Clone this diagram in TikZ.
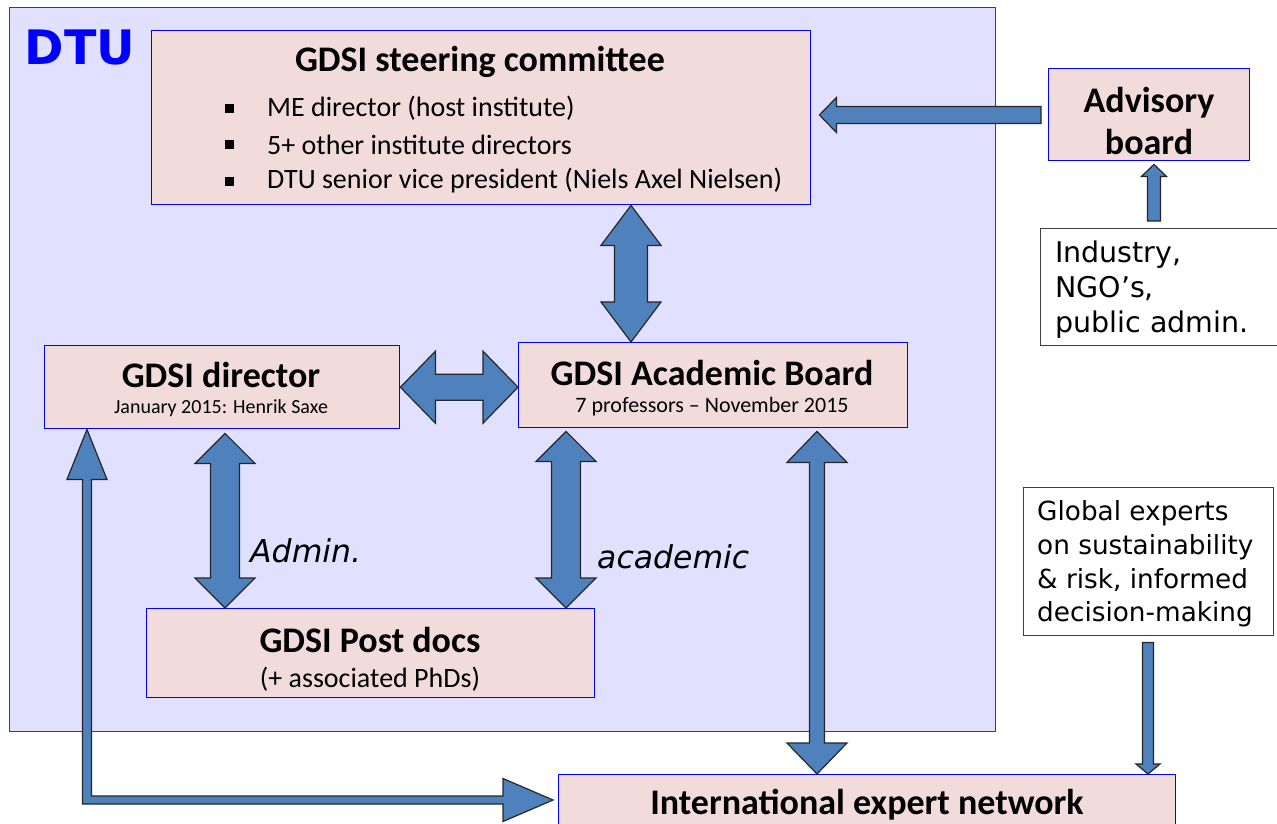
\documentclass[tikz,border=0pt]{standalone}
\usepackage{fontspec}
\setmainfont{Carlito}
\newfontfamily\verd{DejaVu Sans}
\usetikzlibrary{calc}
\definecolor{boxfill}{HTML}{F2DCDB}
\definecolor{dtufill}{HTML}{E1E1FF}
\definecolor{arrfill}{HTML}{4F81BD}
\tikzset{
  orgbox/.style={draw=blue, line width=1.4pt, fill=boxfill, inner sep=0pt, anchor=north west},
  txtbox/.style={draw=black!75, line width=1.4pt, fill=white, inner sep=0pt, anchor=north west},
  blockarr/.style={fill=arrfill, draw=black!85, line width=1.2pt, line join=miter},
  ttl/.style={font=\fontsize{36}{42}\selectfont\bfseries, inner sep=0pt},
  subt/.style={font=\fontsize{#1}{#1}\selectfont, inner sep=0pt},
  bultxt/.style={font=\fontsize{28}{34}\selectfont, inner sep=0pt, anchor=west},
  bulsq/.style={fill=black, minimum size=9pt, inner sep=0pt},
  vtext/.style={inner sep=0pt, anchor=west, align=left},
}
% vertical double block arrow: top tip, bottom tip, shaft half, head half, head length
\newcommand\vdbl[5]{%
  \path[blockarr] let \p1=(#1), \p2=(#2) in
  (\x1,\y1) -- (\x1+#4pt,\y1-#5pt) -- (\x1+#3pt,\y1-#5pt) -- (\x1+#3pt,\y2+#5pt)
  -- (\x1+#4pt,\y2+#5pt) -- (\x1,\y2) -- (\x1-#4pt,\y2+#5pt) -- (\x1-#3pt,\y2+#5pt)
  -- (\x1-#3pt,\y1-#5pt) -- (\x1-#4pt,\y1-#5pt) -- cycle;}
% horizontal double block arrow: left tip, right tip, shaft half, head half, head length
\newcommand\hdbl[5]{%
  \path[blockarr] let \p1=(#1), \p2=(#2) in
  (\x1,\y1) -- (\x1+#5pt,\y1+#4pt) -- (\x1+#5pt,\y1+#3pt) -- (\x2-#5pt,\y1+#3pt)
  -- (\x2-#5pt,\y1+#4pt) -- (\x2,\y1) -- (\x2-#5pt,\y1-#4pt) -- (\x2-#5pt,\y1-#3pt)
  -- (\x1+#5pt,\y1-#3pt) -- (\x1+#5pt,\y1-#4pt) -- cycle;}
% left-pointing single arrow: tip, tail
\newcommand\lsgl[5]{%
  \path[blockarr] let \p1=(#1), \p2=(#2) in
  (\x1,\y1) -- (\x1+#5pt,\y1+#4pt) -- (\x1+#5pt,\y1+#3pt) -- (\x2,\y1+#3pt)
  -- (\x2,\y1-#3pt) -- (\x1+#5pt,\y1-#3pt) -- (\x1+#5pt,\y1-#4pt) -- cycle;}
% up-pointing single arrow: tip (top), tail (bottom)
\newcommand\usgl[5]{%
  \path[blockarr] let \p1=(#1), \p2=(#2) in
  (\x1,\y1) -- (\x1+#4pt,\y1-#5pt) -- (\x1+#3pt,\y1-#5pt) -- (\x1+#3pt,\y2)
  -- (\x1-#3pt,\y2) -- (\x1-#3pt,\y1-#5pt) -- (\x1-#4pt,\y1-#5pt) -- cycle;}
% down-pointing single arrow: tail (top), tip (bottom)
\newcommand\dsgl[5]{%
  \path[blockarr] let \p1=(#1), \p2=(#2) in
  (\x1-#3pt,\y1) -- (\x1+#3pt,\y1) -- (\x1+#3pt,\y2+#5pt) -- (\x1+#4pt,\y2+#5pt)
  -- (\x1,\y2) -- (\x1-#4pt,\y2+#5pt) -- (\x1-#3pt,\y2+#5pt) -- cycle;}
\begin{document}
\begin{tikzpicture}[x=1pt,y=-1pt]
\useasboundingbox (0,0) rectangle (1277,824);
\fill[white] (0,0) rectangle (1277,824);

% DTU frame
\node[draw=black!75, line width=1.4pt, fill=dtufill, inner sep=0pt, anchor=north west,
  minimum width=986pt, minimum height=724pt] (dtu) at (9,7) {};
\node[font=\fontsize{47.5}{47.5}\verd\bfseries, text=blue, inner sep=0pt] (dtuT) at (80,48) {DTU};

% boxes
\node[orgbox, minimum width=659pt, minimum height=174pt] (sc) at (151,30) {};
\node[orgbox, minimum width=201pt, minimum height=92pt] (adv) at (1048,68) {};
\node[txtbox, minimum width=240pt, minimum height=117pt] (ind) at (1040,228) {};
\node[txtbox, minimum width=250pt, minimum height=148pt] (glob) at (1023,487) {};
\node[orgbox, minimum width=355pt, minimum height=83pt] (dir) at (44,345) {};
\node[orgbox, minimum width=389pt, minimum height=85pt] (acb) at (518,342) {};
\node[orgbox, minimum width=448pt, minimum height=89pt] (pd) at (146,608) {};
\node[orgbox, minimum width=617pt, minimum height=70pt] (ien) at (558,774) {};

% texts
\node[ttl] (scT) at (480,62) {GDSI steering committee};
\node[bulsq] (bs1) at (229,109) {};
\node[bulsq] (bs2) at (229,145) {};
\node[bulsq] (bs3) at (229,181) {};
\node[bultxt] (bt1) at (267,108) {ME director (host institute)};
\node[bultxt] (bt2) at (267,145) {5+ other institute directors};
\node[bultxt] (bt3) at (267,181) {DTU senior vice president (Niels Axel Nielsen)};

\node[ttl, align=center] (advT) at (1149,121) {Advisory\\board};
\node[vtext, font=\fontsize{28.5}{35}\verd] (indT) at (1055,290) {Industry,\\NGO’s,\\public admin.};
\node[vtext, font=\fontsize{26.3}{33.7}\verd] (globT) at (1037,564) {Global experts\\on sustainability\\\&~risk, informed\\decision-making};

\node[ttl] (dirT) at (221,375) {GDSI director};
\node[subt=20] (dirS) at (221,408) {January 2015: Henrik Saxe};
\node[ttl] (acbT) at (712,373) {GDSI Academic Board};
\node[subt=22] (acbS) at (712,407) {7 professors – November 2015};
\node[ttl] (pdT) at (370,640) {GDSI Post docs};
\node[subt=28] (pdS) at (370,679) {(+ associated PhDs)};
\node[ttl] (ienT) at (867,805) {International expert network};

\node[vtext, font=\fontsize{31.5}{31.5}\verd\itshape] (admT) at (250,551) {Admin.};
\node[vtext, font=\fontsize{31.5}{31.5}\verd\itshape] (acaT) at (597,557) {academic};

% helper coordinates for arrow axes
\coordinate (x631) at (631,0);
\coordinate (x225) at (225,0);
\coordinate (x566) at (566,0);
\coordinate (x817) at (817,0);
\coordinate (x1154) at (1154,0);
\coordinate (x1148) at (1148,0);
\coordinate (x87) at (87,0);
\coordinate (y115) at (0,115);
\coordinate (y800) at (0,800);
\coordinate (scR) at ([xshift=8pt]sc.east);
\coordinate (advL) at ([xshift=-7pt]adv.west);
\coordinate (indTop) at ([yshift=7pt]ind.north);
\coordinate (advB) at ([yshift=-3pt]adv.south);
\coordinate (globB) at ([yshift=-6pt]glob.south);
\coordinate (ienL) at ([xshift=-5pt]ien.west);
\coordinate (dirB) at ([yshift=-4pt]dir.south);
\coordinate (acbB) at ([yshift=-3pt]acb.south);

% arrows
\lsgl{scR |- y115}{advL |- y115}{8.5}{17.5}{17}
\usgl{advB -| x1154}{indTop -| x1154}{6.5}{12.5}{12}
\dsgl{globB -| x1148}{ien.north -| x1148}{5.5}{12}{10}
\vdbl{sc.south -| x631}{acb.north -| x631}{16.5}{30}{40}
\hdbl{dir.east}{acb.west |- dir.east}{13}{36}{35}
\vdbl{dirB -| x225}{pd.north -| x225}{14.5}{30}{30}
\vdbl{acbB -| x566}{pd.north -| x566}{14.5}{30}{30}
\vdbl{acbB -| x817}{ien.north -| x817}{7.5}{30}{31}
% L-shaped arrow: GDSI director <- -> International expert network
\path[blockarr] let \p1=(dir.south -| x87), \p2=(ienL |- y800) in
  (\x1,\y1) -- (\x1+20pt,\y1-50pt) -- (\x1+4.5pt,\y1-50pt) -- (\x1+4.5pt,\y2+4pt)
  -- (\x2-50pt,\y2+4pt) -- (\x2-50pt,\y2+21.5pt) -- (\x2,\y2) -- (\x2-50pt,\y2-21.5pt)
  -- (\x2-50pt,\y2-4pt) -- (\x1-4.5pt,\y2-4pt) -- (\x1-4.5pt,\y1-50pt) -- (\x1-20pt,\y1-50pt) -- cycle;
\end{tikzpicture}
\end{document}
